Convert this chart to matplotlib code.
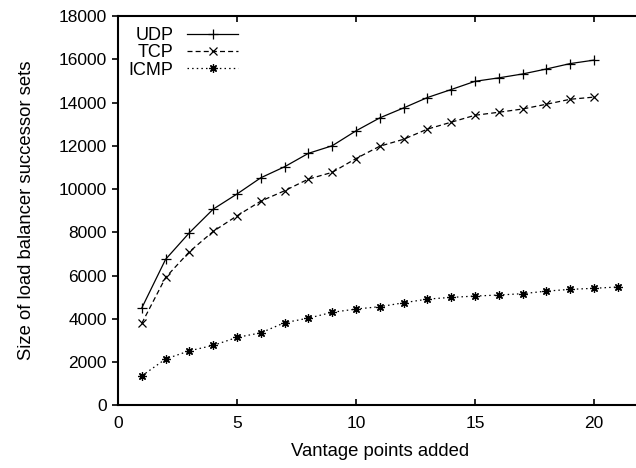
import matplotlib
matplotlib.use("Agg")
import matplotlib.pyplot as plt

# data
x_udp = list(range(1, 21))
udp = [4500, 6750, 7980, 9070, 9770, 10520, 11030, 11650, 12000, 12690,
       13290, 13750, 14230, 14600, 14980, 15140, 15320, 15550, 15800, 15960]

x_tcp = list(range(1, 21))
tcp = [3790, 5910, 7100, 8040, 8760, 9440, 9920, 10460, 10770, 11410,
       11980, 12300, 12770, 13090, 13410, 13550, 13700, 13920, 14150, 14250]

x_icmp = list(range(1, 22))
icmp = [1360, 2140, 2520, 2770, 3140, 3350, 3820, 4030, 4300, 4450,
        4560, 4740, 4910, 4990, 5050, 5100, 5160, 5280, 5360, 5410, 5470]

yticks = list(range(0, 18001, 2000))
xticks = [0, 5, 10, 15, 20]

plt.rcParams['font.family'] = ['Liberation Sans', 'DejaVu Sans']
plt.rcParams['font.size'] = 12.5

fig = plt.figure(figsize=(6.36, 4.68), dpi=100)
# axes runs past the right edge of the picture, as in the reference
ax = fig.add_axes([118 / 636, 62.7 / 468, 523.6 / 636, 389.3 / 468])

ax.plot(x_udp, udp, color='black', lw=0.9, ls='-', marker='+', ms=7, mew=0.9, label='UDP')
ax.plot(x_tcp, tcp, color='black', lw=0.9, ls=(0, (4, 2.5)), marker='x', ms=5.5, mew=0.9, label='TCP')
ax.plot(x_icmp, icmp, color='black', lw=0.9, ls=(0, (1.2, 2.5)), marker=(8, 2, 0), ms=6, mew=0.9, label='ICMP')

ax.set_xlim(0, 22)
ax.set_ylim(0, 18000)
ax.set_xticks(xticks)
ax.set_yticks(yticks)
ax.tick_params(axis='x', direction='in', top=True, length=4, width=1.2, pad=8, labelsize=12.5)
ax.tick_params(axis='y', direction='out', length=4, width=1.2, pad=4, labelsize=12.5)
for s in ax.spines.values():
    s.set_linewidth(1.5)

ax.set_xlabel('Vantage points added', labelpad=8, fontsize=13.3)
ax.set_ylabel('Size of load balancer successor sets', labelpad=17, fontsize=13.3)

ax.legend(loc='upper left', frameon=False, markerfirst=False,
          handlelength=2.8, handletextpad=0.75, labelspacing=0.02,
          borderaxespad=0.2, fontsize=13)

fig.savefig('out.png', dpi=100)
